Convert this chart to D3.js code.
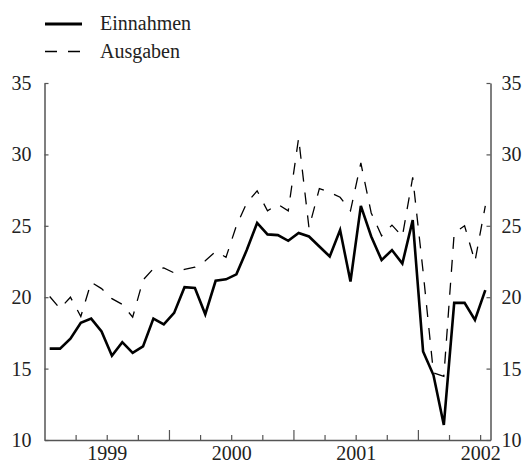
<!DOCTYPE html>
<html>
<head>
<meta charset="utf-8">
<script src="https://cdn.jsdelivr.net/npm/d3@7"></script>
<style>
  body { margin: 0; background: #fff; }
  text { font-family: "Liberation Serif", "Times New Roman", serif; fill: #222; }
</style>
</head>
<body>
<div class="canvas"></div>
<script>
// monthly values, Jan 1999 - Jul 2002
const einnahmen = [
  16.4, 16.4, 17.1, 18.2, 18.5, 17.6, 15.9, 16.85, 16.1, 16.55, 18.5, 18.1,
  18.9, 20.7, 20.65, 18.8, 21.15, 21.25, 21.6, 23.3, 25.2, 24.4, 24.35, 23.95,
  24.5, 24.25, 23.55, 22.85, 24.7, 21.1, 26.4, 24.25, 22.6, 23.3, 22.35, 25.4,
  16.2, 14.55, 11.05, 19.6, 19.6, 18.4, 20.5
];
const ausgaben = [
  20.05, 19.2, 20.0, 18.65, 21.05, 20.6, 19.9, 19.5, 18.6, 21.2, 22.0, 22.05,
  21.7, 21.95, 22.1, 22.55, 23.2, 22.8, 25.0, 26.6, 27.45, 26.05, 26.5, 26.05,
  31.15, 24.85, 27.6, 27.35, 27.0, 26.05, 29.4, 25.9, 24.3, 25.05, 24.25, 28.4,
  21.8, 14.7, 14.45, 24.5, 25.0, 22.5, 26.4
];
const years = ["1999", "2000", "2001", "2002"];
const yTicks = [10, 15, 20, 25, 30, 35];
const seriesNames = ["Einnahmen", "Ausgaben"];

const width = 523, height = 465;
const svg = d3.select(".canvas").append("svg")
  .attr("width", width)
  .attr("height", height);

let x = d3.scaleLinear().domain([0, einnahmen.length]).range([44.5, 490.5]);
let y = d3.scaleLinear().domain([10, 35]).range([440, 83]);

const axisColor = "#555";

// left axis
let left = svg.append("g")
  .attr("transform", `translate(${x(0)},0)`)
  .call(d3.axisLeft(y).tickValues(yTicks).tickSizeInner(-4).tickSizeOuter(0).tickPadding(13));

// right axis
let right = svg.append("g")
  .attr("transform", `translate(${x(einnahmen.length)},0)`)
  .call(d3.axisRight(y).tickValues(yTicks).tickSizeInner(-4).tickSizeOuter(0).tickPadding(11));

// bottom axis: quarterly ticks, longer at year boundaries
let quarters = d3.range(3, einnahmen.length, 3);
let bottom = svg.append("g")
  .attr("transform", `translate(0,${y(10)})`)
  .call(d3.axisBottom(x).tickValues(quarters).tickFormat("").tickSizeInner(-5).tickSizeOuter(0));
bottom.selectAll(".tick line")
  .attr("y2", (d) => (d % 12 === 0 ? -10 : -5));

// year labels centred in each year
let yearAxis = svg.append("g")
  .attr("transform", `translate(0,${y(10)})`)
  .call(d3.axisBottom(x)
    .tickValues(years.map((d, i) => i * 12 + 6))
    .tickFormat((d, i) => years[i])
    .tickSize(0)
    .tickPadding(6));
yearAxis.select(".domain").remove();

[left, right, bottom].forEach((g) => {
  g.select(".domain").attr("stroke", axisColor).attr("stroke-width", 1.5);
  g.selectAll(".tick line").attr("stroke", axisColor).attr("stroke-width", 1.2);
});
svg.selectAll(".tick text")
  .style("font-family", "'Liberation Serif', serif")
  .style("font-size", "20px")
  .attr("fill", "#222");

// lines
let line = d3.line()
  .x((d, i) => x(i + 0.5))
  .y((d) => y(d));

svg.append("path")
  .datum(ausgaben)
  .attr("fill", "none")
  .attr("stroke", "#000")
  .attr("stroke-width", 1.3)
  .attr("stroke-dasharray", "12,11")
  .attr("d", line);

svg.append("path")
  .datum(einnahmen)
  .attr("fill", "none")
  .attr("stroke", "#000")
  .attr("stroke-width", 2.6)
  .attr("stroke-linejoin", "miter")
  .attr("d", line);

// legend
let legend = svg.append("g");
seriesNames.forEach((name, i) => {
  let ly = 24 + i * 27.5;
  legend.append("line")
    .attr("x1", 45).attr("x2", 82)
    .attr("y1", ly).attr("y2", ly)
    .attr("stroke", "#000")
    .attr("stroke-width", i === 0 ? 2.8 : 1.3)
    .attr("stroke-dasharray", i === 0 ? null : "12,11");
  legend.append("text")
    .attr("x", 100)
    .attr("y", ly + 6)
    .style("font-size", "20px")
    .text(name);
});
</script>
</body>
</html>
